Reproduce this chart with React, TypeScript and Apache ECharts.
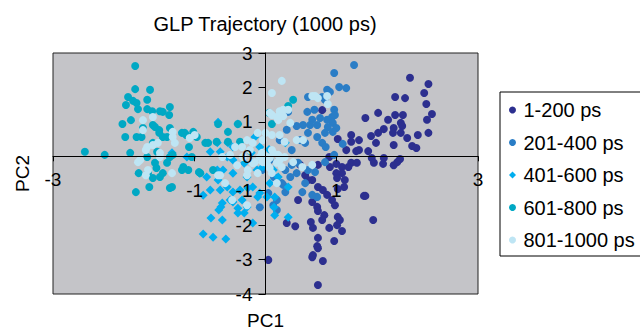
import React, { useEffect, useRef } from "react";
import * as echarts from "echarts";

const seriesNames = ["1-200 ps", "201-400 ps", "401-600 ps", "601-800 ps", "801-1000 ps"];
const seriesColors = ["#2c2f8f", "#2a7dc6", "#00aeef", "#00a8c4", "#bee5f4"];

const xMin = -3, xMax = 3, xStep = 2;
const yMin = -4, yMax = 3, yStep = 1;

const ps1_200: [number, number][] = [
  [2.04, 2.28], [2.30, 2.10], [2.24, 1.84], [1.83, 1.72], [1.97, 1.69], [2.27, 1.52], [2.35, 1.23],
  [2.28, 1.06], [1.41, 1.11], [1.59, 1.26], [1.73, 1.06], [1.83, 1.20], [1.94, 1.20], [1.91, 0.97],
  [1.93, 0.88], [1.81, 0.82], [1.80, 0.68], [1.91, 0.68], [1.67, 0.79], [1.59, 0.68], [2.00, 0.53],
  [2.15, 0.62], [2.30, 0.68], [2.07, 0.30], [2.13, 0.24], [1.81, 0.33], [1.56, 0.39], [1.45, 0.15],
  [1.32, 0.47], [1.21, 0.62], [1.21, 0.42], [1.02, 0.50], [1.28, 0.15], [1.50, -0.05], [1.67, -0.05],
  [1.90, -0.08], [1.86, -0.17], [1.81, -0.26], [1.66, -0.22], [1.53, -0.19], [1.21, -0.19], [1.08, -0.31],
  [0.90, -0.02], [1.49, 0.59], [1.32, 0.18], [1.14, 0.18], [1.29, -0.19], [1.17, -0.31], [1.00, -0.22],
  [1.08, -0.49], [1.00, -0.49], [1.12, -0.69], [0.91, -0.31], [0.74, -0.25], [0.66, -0.69], [0.74, -0.89],
  [0.81, -0.98], [0.87, -1.12], [0.94, -1.27], [0.98, -1.42], [1.11, -0.89], [1.41, -1.15], [1.01, -0.63],
  [1.02, -0.95], [0.66, -1.33], [0.73, -1.47], [0.74, -1.59], [0.83, -1.71], [0.64, -1.91], [0.80, -1.85],
  [1.02, -1.76], [1.05, -1.85], [1.01, -2.00], [0.90, -2.08], [0.67, -2.08], [1.08, -2.17], [0.42, -2.03],
  [0.30, -1.94], [0.74, -2.37], [0.97, -2.46], [0.73, -2.61], [0.74, -2.67], [0.67, -2.87], [0.81, -3.04],
  [0.04, -3.01], [0.74, -3.74], [1.52, -1.85], [1.39, -1.15], [0.66, -2.93], [0.46, -1.27], [0.80, 1.34],
  [0.56, -0.55], [0.49, -0.25], [0.60, -0.69]
];

const ps201_400: [number, number][] = [
  [1.25, 2.65], [0.97, 2.42], [1.04, 2.01], [1.14, 1.98], [0.87, 1.93], [0.91, 1.87], [0.80, 1.72],
  [0.84, 1.64], [0.97, 1.35], [0.94, 1.14], [0.98, 1.20], [0.87, 1.06], [0.95, 0.97], [0.88, 0.85],
  [1.00, 0.82], [0.95, 0.71], [0.84, 0.68], [1.09, 0.36], [0.80, 0.39], [0.85, 0.27], [0.97, 0.04],
  [0.84, -0.17], [0.59, 1.29], [0.69, 1.35], [0.77, 1.11], [0.66, 1.06], [0.53, 0.91], [0.63, 0.91],
  [0.73, 0.91], [0.44, 0.88], [0.60, 1.72], [0.60, 0.68], [0.73, 0.56], [0.56, 0.39], [0.37, 0.18],
  [0.46, -0.19], [0.37, -0.25], [0.28, -0.40], [0.44, -0.49], [0.52, -1.04], [0.73, -1.18], [0.56, -0.78],
  [0.66, -1.12], [0.35, -0.60], [0.23, -0.78], [0.11, -1.42], [0.16, -1.56], [0.04, -1.07], [0.28, -1.04],
  [0.16, -1.27], [0.25, -0.83], [0.12, -0.60], [0.70, -0.46], [0.60, -0.40], [0.20, 0.47], [0.30, 0.77],
  [0.49, 0.47], [0.06, -0.11], [-0.05, -0.40], [-0.08, -1.48], [0.32, 1.29]
];

const ps401_600: [number, number][] = [
  [-0.88, -2.26], [-0.74, -2.35], [-0.56, -2.40], [-0.77, -1.79], [-0.61, -1.85], [-0.66, -1.56],
  [-0.63, -1.47], [-0.39, -1.51], [-0.39, -1.65], [-0.30, -1.65], [-0.18, -1.94], [-0.61, -1.36],
  [-0.50, -1.27], [-0.26, -1.47], [-0.78, -0.98], [-0.88, -1.13], [-0.64, -0.98], [-0.54, -0.89],
  [-0.46, -1.04], [-0.36, -0.98], [-0.25, -0.92], [-0.18, -0.89], [-0.11, -1.18], [-0.33, -1.27],
  [-0.46, -1.33], [-0.67, -0.69], [-0.83, -0.60], [-0.93, -0.49], [-0.68, -0.40], [-0.46, -0.49],
  [-0.26, -0.60], [-0.12, -0.40], [-0.04, -0.31], [-1.32, 0.10], [-1.11, -0.02], [-0.78, 0.13],
  [-0.64, 0.13], [-0.54, -0.02], [-0.46, -0.11], [-0.60, -0.40], [-0.68, 0.39], [-0.53, 0.39],
  [-0.15, 0.56], [-0.08, 0.27], [-0.04, -0.11], [-0.08, -1.07], [0.02, -1.18], [-0.67, 0.99],
  [-0.39, 0.94], [-0.46, 0.27], [0.11, -0.40], [0.18, -0.60], [0.32, -0.89], [0.13, -1.18],
  [0.06, -0.78], [0.28, 0.39], [0.13, -1.71], [0.32, -1.77], [0.12, -1.48], [-0.20, 0.10],
  [-0.30, -0.20], [0.05, 0.20]
];

const ps601_800: [number, number][] = [
  [-1.84, 2.62], [-1.84, 1.95], [-1.63, 1.93], [-1.94, 1.72], [-1.87, 1.61], [-1.97, 1.49], [-1.82, 1.55],
  [-1.67, 1.64], [-1.80, 1.37], [-1.67, 1.37], [-1.60, 1.31], [-1.49, 1.31], [-1.90, 1.05], [-2.02, 0.94],
  [-1.73, 0.82], [-1.59, 0.91], [-1.50, 0.76], [-1.82, 0.56], [-1.98, 0.56], [-1.75, 0.56], [-1.56, 0.85],
  [-1.45, 1.29], [-1.35, 1.43], [-1.36, 1.20], [-1.35, 0.82], [-1.50, 0.68], [-1.59, 0.39], [-1.45, 0.56],
  [-1.31, 0.04], [-1.39, -0.19], [-1.53, 0.13], [-1.67, -0.02], [-1.18, 0.68], [-1.12, 0.62], [-1.02, 0.71],
  [-0.97, 0.56], [-1.08, 0.27], [-0.85, 0.39], [-0.67, 0.94], [-0.53, 0.71], [-0.39, 0.94], [-0.81, 0.39],
  [-0.69, 0.42], [-0.53, 0.42], [-2.55, 0.13], [-2.27, 0.04], [-1.91, 0.10], [-1.35, -0.02], [-1.04, -0.02],
  [-0.36, 0.42], [0.39, 1.64], [0.32, 1.46], [0.09, 0.94], [0.05, 1.26], [-1.56, -0.19], [-1.79, -0.49],
  [-1.66, -0.49], [-1.59, -0.63], [-1.64, -0.89], [-1.83, -1.04], [-1.49, -0.60], [-1.45, -0.49],
  [-1.32, -0.89], [-1.18, -0.40], [-1.09, -0.40], [-0.94, -0.46], [-1.39, 0.56], [-1.14, 0.68],
  [-1.16, -0.31], [-0.92, -0.49], [-1.35, -0.92], [-0.74, -0.40], [-1.54, -0.34]
];

const ps801_1000: [number, number][] = [
  [0.23, 2.19], [0.09, 1.84], [0.09, 1.20], [0.20, 1.31], [0.25, 1.17], [0.32, 1.35], [0.18, 1.05],
  [0.35, 0.97], [0.70, 1.75], [0.74, 1.69], [0.66, 1.75], [0.87, 1.75], [0.88, 1.52], [0.00, 0.68],
  [-1.73, 1.05], [-1.59, 1.14], [-1.73, 0.76], [-1.31, 0.71], [-1.31, 0.56], [-1.49, 0.10], [-1.67, 0.27],
  [-1.77, -0.11], [0.16, 1.14], [0.06, 1.26], [0.25, 1.35], [-0.11, 0.68], [-0.04, 0.47], [-0.18, 0.39],
  [-0.26, 0.47], [-0.33, 0.27], [-0.43, 0.27], [-0.50, 0.04], [-0.61, -0.02], [0.02, -0.02], [0.11, 0.10],
  [-0.08, -0.02], [0.20, -0.11], [-1.80, -0.17], [-1.69, 0.18], [-1.66, -0.40], [-1.59, 0.33], [-1.49, -0.02],
  [-1.52, 0.39], [-1.69, -0.55], [-1.32, -0.49], [-0.64, -0.55], [-0.26, -0.55], [-0.11, -0.49], [0.06, -0.34],
  [-0.04, -0.17], [-0.18, -0.20], [-0.26, -1.42], [-1.00, 0.62], [-1.07, 0.53], [-1.28, 0.39], [-0.67, -0.55],
  [-0.47, -1.27], [-0.57, -0.78], [-0.25, -0.40], [-0.15, -0.17], [-0.22, 0.18], [-0.32, -0.02], [-0.05, 0.10],
  [0.02, -0.20], [-0.40, -0.26], [0.09, 0.62], [0.20, 0.62], [0.27, 0.42], [0.44, 0.47], [0.53, 0.47],
  [0.09, 0.18], [0.18, 0.04], [0.27, -0.02], [0.06, -0.05], [0.16, -0.19], [0.23, -0.31], [0.09, -0.49],
  [0.16, -0.78], [0.39, -0.17], [0.52, -0.31], [0.66, -0.25]
];

const seriesData = [ps1_200, ps201_400, ps401_600, ps601_800, ps801_1000];
const seriesSymbols = ["circle", "circle", "diamond", "circle", "circle"];

const FONT = "'Liberation Sans', Arial, Helvetica, sans-serif";

// plot area geometry (pixels)
const GL = 53, GT = 53, GR = 478, GB = 294;

export default function App() {
  const ref = useRef<HTMLDivElement>(null);
  useEffect(() => {
    const chart = echarts.init(ref.current!, null, { renderer: "svg" });
    const zeroX = GL + ((0 - xMin) / (xMax - xMin)) * (GR - GL);
    const zeroY = GT + ((yMax - 0) / (yMax - yMin)) * (GB - GT);
    chart.setOption({
      animation: false,
      backgroundColor: "#ffffff",
      textStyle: { fontFamily: FONT, color: "#000" },
      title: {
        text: "GLP Trajectory (1000 ps)",
        left: 265,
        textAlign: "center",
        top: 14,
        padding: 0,
        textStyle: { fontFamily: FONT, fontSize: 20, fontWeight: "normal", color: "#000" },
      },
      legend: {
        orient: "vertical",
        left: 500,
        top: 92,
        padding: [8, 12, 6, 9],
        borderColor: "#000",
        borderWidth: 1,
        itemWidth: 12,
        itemHeight: 7,
        itemGap: 12.5,
        symbolKeepAspect: true,
        textStyle: { fontFamily: FONT, fontSize: 20, color: "#000" },
        data: seriesNames.map((name, i) =>
          seriesSymbols[i] === "diamond"
            ? { name, icon: "path://M0,-1L1,0L0,1L-1,0Z" }
            : { name, icon: "circle" }
        ),
      },
      grid: {
        left: GL,
        top: GT,
        right: 640 - GR,
        bottom: 332 - GB,
        containLabel: false,
        outerBoundsMode: "none",
        show: true,
        backgroundColor: "#c4c4c8",
        borderColor: "#222",
        borderWidth: 1,
      },
      xAxis: {
        type: "value",
        position: "bottom",
        offset: -(GB - zeroY),
        min: xMin,
        max: xMax,
        interval: xStep,
        z: 10,
        name: "PC1",
        nameLocation: "middle",
        nameGap: 155,
        nameTextStyle: { fontFamily: FONT, fontSize: 19, color: "#000" },
        axisLine: { onZero: false, lineStyle: { color: "#000", width: 1 } },
        axisTick: { show: true, length: 5, lineStyle: { color: "#000" } },
        splitLine: { show: false },
        axisLabel: {
          margin: 14,
          fontFamily: FONT,
          fontSize: 19,
          color: "#000",
          showMinLabel: true,
          showMaxLabel: true,
          formatter: (v: number) => (Math.abs(v) === 3 ? `{a|${v}}` : `{b|${v}}`),
          rich: {
            a: { fontFamily: FONT, fontSize: 19, color: "#000" },
            b: { fontFamily: FONT, fontSize: 19, color: "#000", padding: [11, 0, 0, 0] },
          },
        },
      },
      yAxis: {
        type: "value",
        position: "left",
        offset: -(zeroX - GL),
        min: yMin,
        max: yMax,
        interval: yStep,
        z: 10,
        name: "PC2",
        nameLocation: "middle",
        nameGap: 234,
        nameTextStyle: { fontFamily: FONT, fontSize: 19, color: "#000" },
        axisLine: { onZero: false, lineStyle: { color: "#000", width: 1 } },
        axisTick: { show: true, length: 7, lineStyle: { color: "#000" } },
        splitLine: { show: false },
        axisLabel: { margin: 13, fontFamily: FONT, fontSize: 19, color: "#000" },
      },
      series: seriesNames.map((name, i) => ({
        name,
        type: "scatter",
        data: seriesData[i],
        symbol: seriesSymbols[i],
        symbolSize: seriesSymbols[i] === "diamond" ? 9 : 8,
        itemStyle: { color: seriesColors[i], opacity: 1 },
        z: 2 + i,
      })),
    });
    return () => chart.dispose();
  }, []);
  return (
    <div
      ref={ref}
      style={{ position: "absolute", left: 0, top: 0, width: 640, height: 332 }}
    />
  );
}
